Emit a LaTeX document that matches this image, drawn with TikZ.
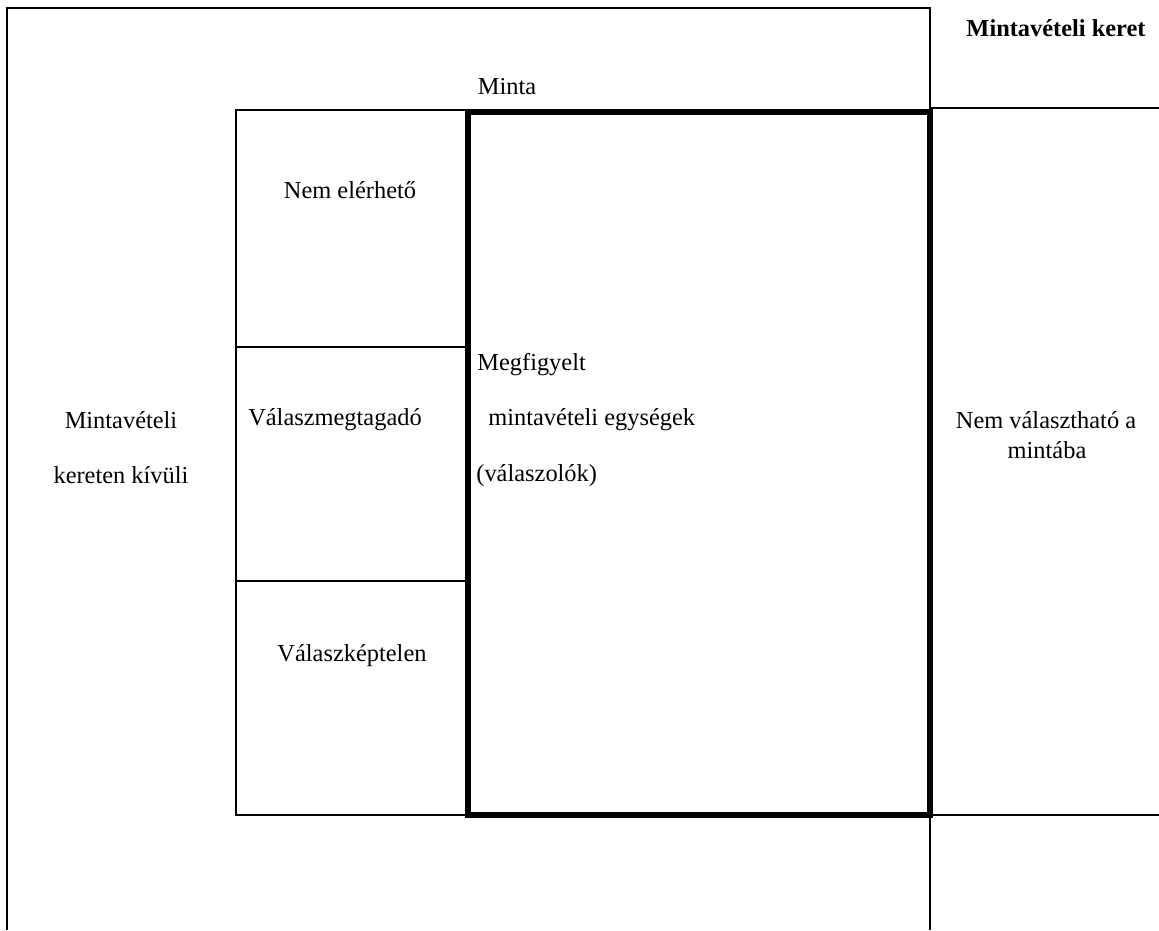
\documentclass[tikz,border=0pt]{standalone}
\usepackage{fontspec}
\setmainfont{Liberation Serif}
\tikzset{
  frameline/.style={line width=1pt},
  samplebox/.style={line width=2.6pt},
  lbl/.style={font=\fontsize{12.2}{14.5}\selectfont, inner sep=0pt},
}

\begin{document}
\begin{tikzpicture}[x=0.5pt, y=-0.5pt]
		\useasboundingbox (0, 0) rectangle (1159, 930);
		% sampling frame
		\def\frameouter{(7, 930) -- (7, 8) -- (930, 8) -- (930, 930)}
		\def\nonresp{(236, 110) rectangle (468, 815)}
		\def\observed{(468, 112) rectangle (930, 815)}
		\draw[frameline] \frameouter;
		\draw[frameline] (930, 108) -- (1159, 108);
		\draw[frameline] (930, 815) -- (1159, 815);
		\draw[frameline] \nonresp;
		\draw[frameline] (236, 347) -- (468, 347);
		\draw[frameline] (236, 581) -- (468, 581);
		\draw[samplebox] \observed;
		% labels
		\node[lbl, font=\fontsize{12.2}{14.5}\selectfont\bfseries] (keret) at (1056, 28) {Mintavételi keret};
		\node[lbl] (minta) at (507, 87) {Minta};
		\node[lbl] (nemel) at (350, 190) {Nem elérhető};
		\node[lbl] (megtag) at (335, 420) {Válaszmegtagadó};
		\node[lbl] (kepte) at (352, 656) {Válaszképtelen};
		\node[lbl, anchor=west] (megf) at (477, 365) {Megfigyelt};
		\node[lbl, anchor=west] (egys) at (488, 420) {mintavételi egységek};
		\node[lbl, anchor=west] (valasz) at (476, 476) {(válaszolók)};
		\node[lbl] (kivul1) at (121, 420) {Mintavételi};
		\node[lbl] (kivul2) at (121, 475) {kereten kívüli};
		\node[lbl] (nemval1) at (1046, 420) {Nem választható a};
		\node[lbl] (nemval2) at (1047, 450) {mintába};
	\end{tikzpicture}
\end{document}
